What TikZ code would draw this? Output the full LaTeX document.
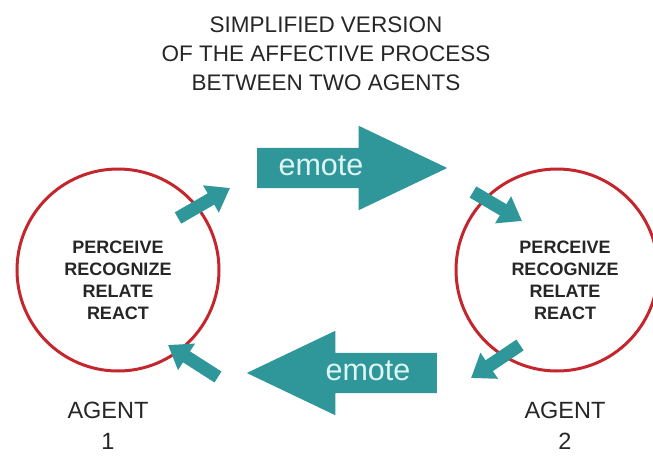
\documentclass[tikz,border=0pt]{standalone}
\usepackage{fontspec}
\setmainfont{Liberation Sans}
\usetikzlibrary{arrows.meta, shapes.arrows}
\definecolor{emoteTeal}{HTML}{2F9799}
\definecolor{ringRed}{HTML}{C3262D}
\definecolor{inkGrey}{HTML}{262626}
\definecolor{emoteText}{HTML}{DDF5F3}

\begin{document}
\begin{tikzpicture}[
    x=1pt, y=-1pt,
    ring/.style={draw=ringRed, line width=3pt, circle, minimum size=202pt, inner sep=0pt},
    steps/.style={align=center, text=inkGrey, font=\fontsize{18}{22}\selectfont\bfseries},
    caption/.style={align=center, text=inkGrey, font=\fontsize{23.5}{30.5}\selectfont},
    emote/.style={single arrow, fill=emoteTeal, draw=none, anchor=tail,
                  minimum height=190pt, minimum width=0pt, inner xsep=0pt, inner ysep=20pt,
                  single arrow head extend=22pt, single arrow tip angle=51},
    emotelabel/.style={text=emoteText, font=\fontsize{30.5}{30.5}\selectfont,
                       text height=15.8pt, text depth=0pt, inner sep=0pt},
    feed/.style={emoteTeal, line width=13pt, -{Triangle[width=30pt, length=22pt]}}
  ]
  \useasboundingbox (0,0) rectangle (653,455);
  \node[align=center, text=inkGrey, font=\fontsize{22.5}{29}\selectfont] (title) at (326,54)
    {SIMPLIFIED VERSION\\OF THE AFFECTIVE PROCESS\\BETWEEN TWO AGENTS};

  % the two agents
  \node[ring] (agentA) at (118,270) {};
  \node[ring] (agentB) at (557,270) {};
  \node[steps] (stepsA) at (118,280) {PERCEIVE\\RECOGNIZE\\RELATE\\REACT};
  \node[steps] (stepsB) at (565,280) {PERCEIVE\\RECOGNIZE\\RELATE\\REACT};
  \node[caption] (nameA) at (108,426) {AGENT\\1};
  \node[caption] (nameB) at (565,426) {AGENT\\2};

  % emote arrows
  \node[emote] (emoteAB) at (257,168) {};
  \node[emote, shape border rotate=180] (emoteBA) at (437,373) {};
  \node[emotelabel] (wordAB) at (321,168) {emote};
  \node[emotelabel] (wordBA) at (368,373) {emote};

  \coordinate (outA) at (178,218);
  \coordinate (toAB) at (230,188);
  \coordinate (fromAB) at (473,192);
  \coordinate (inB) at (522,221);
  \coordinate (outB) at (520,345);
  \coordinate (toBA) at (471,378);
  \coordinate (fromBA) at (218,377);
  \coordinate (inA) at (168,345);
  \draw[feed] (outA) -- (toAB);
  \draw[feed] (fromAB) -- (inB);
  \draw[feed] (outB) -- (toBA);
  \draw[feed] (fromBA) -- (inA);
\end{tikzpicture}
\end{document}
